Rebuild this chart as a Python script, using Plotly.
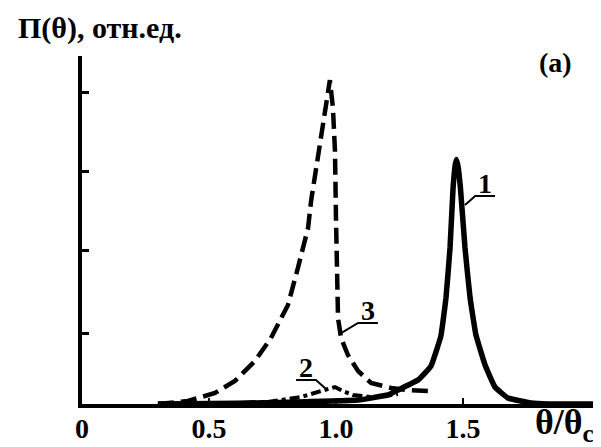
import plotly.graph_objects as go

# ---- data ----
theta3 = [0.299, 0.358, 0.417, 0.457, 0.524, 0.602, 0.681, 0.744, 0.811, 0.850, 0.890, 0.902,
          0.929, 0.953, 0.976, 0.988, 0.996, 1.000, 1.004, 1.008, 1.020, 1.047, 1.087, 1.138,
          1.217, 1.283, 1.362]
p3 = [0.0, 0.013, 0.038, 0.076, 0.140, 0.293, 0.547, 0.840, 1.260, 1.730, 2.239, 2.583,
      3.130, 3.601, 4.120, 3.766, 3.219, 2.366, 1.603, 1.094, 0.840, 0.623, 0.420, 0.267,
      0.204, 0.178, 0.165]

theta1 = [0.299, 0.614, 0.850, 1.087, 1.205, 1.244, 1.323, 1.374, 1.413, 1.433, 1.449, 1.461,
          1.469, 1.474, 1.480, 1.490, 1.508, 1.528, 1.551, 1.587, 1.626, 1.677, 1.768, 1.835, 2.071]
p1 = [0.0, 0.010, 0.025, 0.050, 0.115, 0.178, 0.305, 0.483, 0.865, 1.349, 1.985, 2.748,
      3.030, 3.110, 3.030, 2.748, 1.985, 1.349, 0.878, 0.496, 0.216, 0.076, 0.013, 0.0, 0.0]

theta2 = [0.614, 0.732, 0.862, 0.917, 0.961, 0.996, 1.028, 1.067, 1.138, 1.193, 1.244]
p2 = [0.010, 0.025, 0.089, 0.140, 0.191, 0.216, 0.165, 0.115, 0.089, 0.102, 0.127]

x_ticks = [0, 0.5, 1.0, 1.5]
x_tick_labels = ["0", "0.5", "1.0", "1.5"]
y_ticks = [0.90, 1.95, 2.96, 3.96]

# curve labels: (text, underline centre x, underline y, leader side (-1 left / +1 right), leader end x, leader end y)
curve_labels = [
    ("1", 1.587, 2.646, -1, 1.508, 2.532),
    ("3", 1.126, 1.031, -1, 1.020, 0.903),
    ("2", 0.882, 0.305, +1, 0.961, 0.191),
]

serif = "Liberation Serif"

fig = go.Figure()
fig.add_trace(go.Scatter(x=theta3, y=p3, mode="lines",
                         line=dict(color="black", width=4.5, dash="16px,7px"),
                         hoverinfo="skip"))
fig.add_trace(go.Scatter(x=theta1, y=p1, mode="lines",
                         line=dict(color="black", width=5.5, shape="spline", smoothing=0.3),
                         hoverinfo="skip"))
fig.add_trace(go.Scatter(x=theta2, y=p2, mode="lines",
                         line=dict(color="black", width=4, dash="4px,4px,10px,4px"),
                         hoverinfo="skip"))

hw = 0.039
for txt, ux, uy, side, ex, ey in curve_labels:
    fig.add_annotation(x=ux, y=uy, text="<b>%s</b>" % txt, showarrow=False,
                       font=dict(family=serif, size=28, color="black"),
                       xanchor="center", yanchor="bottom", yshift=-5)
    fig.add_shape(type="path",
                  path="M %f %f L %f %f L %f %f" % (ux - side * hw, uy, ux + side * hw, uy, ex, ey),
                  line=dict(color="black", width=2), xref="x", yref="y")

fig.add_annotation(x=-0.1255, y=1.135, xref="paper", yref="paper", xanchor="left", yanchor="top",
                   text="<b>П(θ), отн.ед.</b>", showarrow=False,
                   font=dict(family=serif, size=30, color="black"))
fig.add_annotation(x=0.901, y=0.980, xref="paper", yref="paper", xanchor="center", yanchor="middle",
                   text="<b>(a)</b>", showarrow=False,
                   font=dict(family=serif, size=28, color="black"))
fig.add_annotation(x=0.857, y=-0.058, xref="paper", yref="paper", xanchor="left", yanchor="middle",
                   text="<b>θ/θ<sub>c</sub></b>", showarrow=False,
                   font=dict(family=serif, size=36, color="black"))

fig.update_layout(
    width=601, height=447,
    margin=dict(l=74, r=1, t=48, b=51),
    plot_bgcolor="white", paper_bgcolor="white",
    showlegend=False,
    xaxis=dict(range=[0, 2.071], showgrid=False, zeroline=False,
               showline=True, linecolor="black", linewidth=4,
               tickmode="array", tickvals=x_ticks, ticktext=x_tick_labels,
               ticks="inside", ticklen=6, tickwidth=2, tickcolor="black",
               ticklabelstandoff=-4,
               tickfont=dict(family=serif, size=28, color="black", weight="bold")),
    yaxis=dict(range=[0, 4.427], showgrid=False, zeroline=False,
               showline=True, linecolor="black", linewidth=4,
               tickmode="array", tickvals=y_ticks, showticklabels=False,
               ticks="inside", ticklen=7, tickwidth=3, tickcolor="black"),
)

fig.write_html("out.html")
